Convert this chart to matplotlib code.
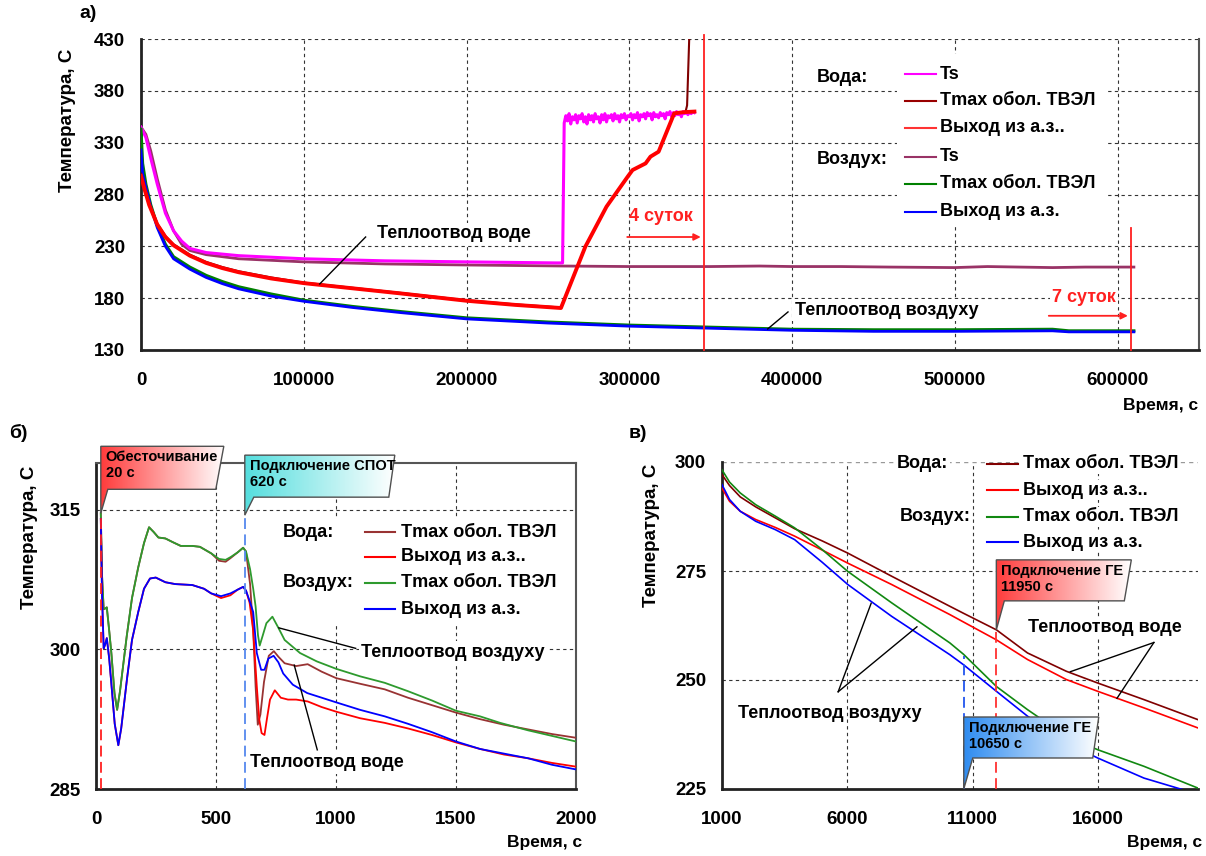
import numpy as np
import matplotlib
matplotlib.use("Agg")
import matplotlib.pyplot as plt
from matplotlib.patches import Polygon, Rectangle
from matplotlib.colors import LinearSegmentedColormap

plt.rcParams['font.family'] = ['Liberation Sans', 'DejaVu Sans']
plt.rcParams['font.weight'] = 'bold'

# ======================= DATA: panel a) =======================
a_ts_water_t1 = [0, 3e3, 6e3, 10e3, 15e3, 20e3, 25e3, 30e3, 40e3, 60e3, 100e3, 150e3, 200e3, 255e3, 259e3]
a_ts_water_v1 = [345, 335, 315, 290, 262, 245, 235, 228, 224, 221, 218, 216, 215, 214, 214]
a_ts_water_t2 = list(range(260000, 341000, 1000))
a_ts_water_v2 = [349, 356, 351, 358, 348, 355, 352, 357, 349, 356, 353, 358, 350, 355, 348, 357, 352, 356, 350, 358,
                 353, 355, 349, 357, 352, 358, 350, 356, 354, 357, 351, 358, 353, 356, 350, 357, 354, 358, 352, 356,
                 355, 358, 352, 357, 354, 359, 351, 357, 355, 358, 353, 359, 356, 358, 352, 359, 355, 357, 354, 359,
                 356, 358, 353, 359, 357, 360, 355, 359, 356, 360, 357, 359, 355, 360, 358, 360, 357, 360, 358, 360,
                 359]

a_tmax_water_t = [0, 2e3, 5e3, 10e3, 15e3, 20e3, 30e3, 40e3, 50e3, 60e3, 80e3, 100e3, 130e3, 160e3,
                  200e3, 230e3, 258e3, 273e3, 286e3, 299e3, 302e3, 310e3, 313e3, 318e3, 327.6e3,
                  334.5e3, 335.5e3, 337e3]
a_tmax_water_v = [300, 288, 272, 252, 240, 232, 222, 215, 210, 206, 200, 195, 190, 185,
                  178, 174, 171, 229.7, 268.3, 297.2, 303.6, 310, 316.5, 321.3, 358.3,
                  359.5, 366, 440]

a_out_water_t = [0, 2e3, 5e3, 10e3, 15e3, 20e3, 30e3, 40e3, 50e3, 60e3, 80e3, 100e3, 130e3, 160e3,
                 200e3, 230e3, 258e3, 273e3, 286e3, 299e3, 302e3, 310e3, 313e3, 318e3, 327.6e3,
                 334e3, 340e3]
a_out_water_v = [298, 286, 270, 251, 239, 231, 221, 214, 209, 205, 199, 194.5, 189.5, 184.5,
                 177.5, 173.5, 170.5, 229.7, 268.3, 297.2, 303.6, 310, 316.5, 321.3, 358.3,
                 359.5, 360]

a_ts_air_t = [0, 3e3, 6e3, 10e3, 15e3, 20e3, 25e3, 30e3, 40e3, 60e3, 100e3, 150e3, 200e3, 260e3,
              300e3, 350e3, 380e3, 400e3, 430e3, 460e3, 500e3, 520e3, 540e3, 560e3, 580e3, 610e3]
a_ts_air_v = [345, 338, 322, 295, 265, 245, 232, 226, 222, 218, 215, 213, 212, 211,
              210.5, 210.5, 211, 210.5, 210.5, 210, 209.5, 210.5, 210, 209.5, 210, 210]

a_air_t = [0, 1e3, 3e3, 6e3, 10e3, 15e3, 20e3, 30e3, 40e3, 50e3, 60e3, 80e3, 100e3, 130e3, 160e3,
           200e3, 250e3, 300e3, 350e3, 400e3, 450e3, 500e3, 560e3, 570e3, 610e3]
a_tmax_air_v = [343, 310, 290, 270, 250, 232, 220, 210, 202, 196, 191, 184, 178, 172, 167,
                161, 157, 154, 152, 150, 149.5, 149.5, 150, 148.5, 148.5]
a_out_air_v = [323, 300, 287, 268, 248, 230, 218, 208, 200, 194, 189, 182, 177, 171, 166,
               160, 156, 153, 151, 149, 148, 148, 148.5, 147.5, 147.5]

a_day_lines = [345600, 608000]          # 4 and 7 days
a_xticks = [0, 100000, 200000, 300000, 400000, 500000, 600000]
a_yticks = [130, 180, 230, 280, 330, 380, 430]

# ======================= DATA: panel б) =======================
b_tmax_air_t = [20, 25, 32, 40, 45, 55, 64, 77, 88, 100, 128, 150, 176, 200, 221, 240, 260, 289,
                320, 353, 400, 433, 480, 513, 540, 561, 590, 613, 625, 642, 655, 665, 675, 682,
                695, 710, 735, 760, 786, 850, 920, 1001, 1100, 1203, 1300, 1400, 1500, 1600,
                1684, 1800, 1900, 2000]
b_tmax_air_v = [314.6, 308, 304.3, 304.4, 304.5, 302, 299.6, 295.3, 293.5, 295.5, 301.4, 305.5,
                308.8, 311.4, 313.1, 312.6, 312.0, 311.9, 311.5, 311.1, 311.1, 311.0, 310.3, 309.7,
                309.6, 309.9, 310.4, 310.9, 310.5, 308.6, 306.5, 304.6, 301.5, 300.4, 301.5, 302.8,
                303.5, 302.3, 301.0, 299.6, 298.7, 297.9, 297.1, 296.4, 295.5, 294.5, 293.4, 292.8,
                292.1, 291.3, 290.7, 290.1]
b_tmax_water_t = [20, 25, 32, 40, 45, 55, 64, 77, 88, 100, 128, 150, 176, 200, 221, 240, 260, 289,
                  320, 353, 400, 433, 480, 513, 540, 561, 590, 613, 625, 642, 655, 665, 674, 685,
                  700, 720, 741, 760, 786, 834, 882, 940, 1001, 1100, 1203, 1300, 1400, 1500,
                  1600, 1700, 1800, 1900, 2000]
b_tmax_water_v = [314.6, 308, 304.3, 304.4, 304.5, 302, 299.6, 295.3, 293.5, 295.5, 301.4, 305.5,
                  308.8, 311.4, 313.1, 312.6, 312.0, 311.9, 311.5, 311.1, 311.1, 311.0, 310.3, 309.5,
                  309.4, 309.8, 310.4, 310.9, 310.5, 307, 302, 296, 291.9, 293, 296.5, 299.3,
                  299.8, 299.2, 298.5, 298.2, 298.4, 297.6, 296.9, 296.3, 295.7, 294.8, 294.0,
                  293.2, 292.5, 291.9, 291.4, 290.9, 290.5]
b_out_air_t = [20, 25, 32, 38, 45, 55, 65, 78, 93, 105, 130, 150, 176, 200, 225, 249, 289, 330,
               401, 450, 480, 521, 560, 590, 613, 625, 640, 655, 670, 688, 702, 718, 740, 760,
               780, 820, 880, 1001, 1100, 1203, 1300, 1400, 1500, 1600, 1700, 1800, 1900, 2000]
b_out_air_v = [314.0, 306, 300.1, 300.5, 301.2, 299, 296, 292, 289.7, 291.5, 297, 301, 304,
               306.5, 307.6, 307.7, 307.2, 307.0, 306.9, 306.5, 306.0, 305.7, 306.0, 306.4, 306.7,
               306.3, 305.2, 304.0, 299.6, 297.8, 297.8, 299.0, 299.3, 298.6, 297.4, 296.2, 295.3,
               294.3, 293.5, 292.8, 292.0, 291.1, 290.1, 289.3, 288.8, 288.3, 287.6, 287.1]
b_out_water_t = [20, 25, 32, 38, 45, 55, 65, 78, 93, 105, 130, 150, 176, 200, 225, 249, 289, 330,
                 401, 450, 480, 521, 560, 590, 613, 625, 640, 655, 670, 680, 690, 702, 712, 725,
                 745, 770, 800, 834, 882, 940, 1001, 1100, 1203, 1300, 1400, 1500, 1600, 1700,
                 1800, 1900, 2000]
b_out_water_v = [314.0, 306, 300.1, 300.5, 301.2, 299, 296, 292, 289.7, 291.5, 297, 301, 304,
                 306.5, 307.6, 307.7, 307.2, 307.0, 306.9, 306.5, 306.0, 305.5, 305.8, 306.4,
                 306.7, 306.3, 305, 302, 296, 292.5, 291.0, 290.8, 292.5, 294.6, 295.6, 294.8,
                 294.6, 294.6, 294.4, 293.8, 293.3, 292.6, 292.1, 291.5, 290.8, 290.0, 289.3,
                 288.7, 288.3, 287.8, 287.4]
b_events = [20, 620]
b_event_tops = [314.6, 314.4]
b_xticks = [0, 500, 1000, 1500, 2000]
b_yticks = [285, 300, 315]

# ======================= DATA: panel в) =======================
c_t = [1000, 1300, 1728, 2348, 3123, 3898, 5000, 6021, 7772, 10096, 10640, 11955, 13195, 14745, 16000, 17844, 20000]
c_tmax_water_v = [297.1, 294.6, 292.0, 289.7, 287.2, 284.7, 281.9, 279.1, 273.8, 266.9, 265.3, 261.5, 256.2, 252.0, 249.3, 245.5, 240.9]
c_out_water_v = [294.0, 291.0, 288.7, 286.8, 285.0, 283.0, 279.8, 276.8, 271.9, 265.0, 263.3, 259.2, 254.7, 250.1, 247.4, 243.6, 239.0]
c_tmax_air_v = [298.2, 295.4, 292.9, 290.2, 287.6, 284.9, 279.9, 274.9, 267.7, 258.5, 255.9, 248.5, 243.2, 237.1, 234.0, 230.2, 225.2]
c_out_air_v = [294.8, 291.4, 288.7, 286.4, 284.5, 282.2, 277.0, 271.9, 264.6, 255.8, 253.5, 247.4, 241.7, 235.6, 232.1, 227.5, 223.8]
c_events = [10650, 11950]
c_event_tops = [255.4, 261.5]
c_xticks = [1000, 6000, 11000, 16000]
c_yticks = [225, 250, 275, 300]

# ======================= FIGURE =======================
W, H = 1206, 856
fig = plt.figure(figsize=(W / 100, H / 100), dpi=100)


def px_axes(l, t, r, b):
    return fig.add_axes([l / W, 1 - b / H, (r - l) / W, (b - t) / H])


GRID = dict(color='#333333', linestyle=(0, (3, 3)), linewidth=0.8)


def style_axes(ax, xpad=16, ypad=11.5, fs=13):
    ax.set_axisbelow(True)
    ax.grid(True, **GRID)
    ax.tick_params(length=0, labelsize=fs, pad=ypad, axis='y')
    ax.tick_params(length=0, labelsize=fs, pad=xpad, axis='x')
    for lbl in ax.get_xticklabels() + ax.get_yticklabels():
        lbl.set_fontweight('bold')
    for s in ('left', 'bottom'):
        ax.spines[s].set_color('#222222')
        ax.spines[s].set_linewidth(2.0)
    for s in ('top', 'right'):
        ax.spines[s].set_color('#555555')
        ax.spines[s].set_linewidth(1.5)


# ----------------------- panel a -----------------------
axa = px_axes(141, 39, 1199, 350)
axa.set_xlim(0, 650000)
axa.set_ylim(130, 430)
axa.set_xticks(a_xticks)
axa.set_yticks(a_yticks)
axa.set_xticklabels([str(v) for v in a_xticks])
style_axes(axa, xpad=16, ypad=11.5, fs=13.5)
axa.spines['top'].set_visible(False)

c_mag, c_dred, c_red, c_mauve, c_green, c_blue = '#ff00ff', '#800000', '#ff0000', '#993366', '#008000', '#0000ff'
axa.plot(a_ts_air_t, a_ts_air_v, color=c_mauve, lw=2.0, zorder=3)
axa.plot(a_ts_water_t1 + a_ts_water_t2, a_ts_water_v1 + a_ts_water_v2, color=c_mag, lw=2.2, zorder=3)
axa.plot(a_air_t, a_tmax_air_v, color=c_green, lw=2.2, zorder=3)
axa.plot(a_air_t, a_out_air_v, color=c_blue, lw=2.0, zorder=3)
axa.plot(a_tmax_water_t, a_tmax_water_v, color=c_dred, lw=1.5, zorder=3)
axa.plot(a_out_water_t, a_out_water_v, color=c_red, lw=2.8, zorder=4)

axa.plot([a_day_lines[0]] * 2, [130, 434], color='#ff2020', lw=1.3, clip_on=False, zorder=5)
axa.plot([a_day_lines[1]] * 2, [130, 248], color='#ff2020', lw=1.3, clip_on=False, zorder=5)
axa.annotate('', xy=(a_day_lines[0], 239), xytext=(297000, 239),
             arrowprops=dict(arrowstyle='-|>', color='#ff2020', lw=1.3, mutation_scale=10), zorder=5)
axa.text(300000, 259, '4 суток', color='#ff2020', fontsize=13, fontweight='bold', va='center', ha='left')
axa.annotate('', xy=(a_day_lines[1], 163), xytext=(556000, 163),
             arrowprops=dict(arrowstyle='-|>', color='#ff2020', lw=1.3, mutation_scale=10), zorder=5)
axa.text(559500, 181, '7 суток', color='#ff2020', fontsize=13, fontweight='bold', va='center', ha='left',
         bbox=dict(fc='white', ec='none', pad=1.5))

axa.plot([138000, 109800], [239, 193.7], color='black', lw=1.0, zorder=6)
axa.text(145000, 242, 'Теплоотвод воде', fontsize=13, fontweight='bold', va='center', ha='left',
         bbox=dict(fc='white', ec='none', pad=1.5), zorder=6)
axa.plot([397500, 385000], [166.7, 150.3], color='black', lw=1.0, zorder=6)
axa.text(401500, 168.5, 'Теплоотвод воздуху', fontsize=13, fontweight='bold', va='center', ha='left',
         bbox=dict(fc='white', ec='none', pad=1.5), zorder=6)

# legend (panel a)
axa.add_patch(Rectangle((0.715, 0.40), 0.196, 0.552, transform=axa.transAxes, fc='white', ec='none', zorder=1.5))
a_leg_rows = [0.887, 0.801, 0.714, 0.621, 0.534, 0.444]
a_leg_cols = [c_mag, '#990000', '#ff3333', c_mauve, c_green, c_blue]
a_leg_text = ['Ts', 'Tmax обол. ТВЭЛ', 'Выход из а.з..', 'Ts', 'Tmax обол. ТВЭЛ', 'Выход из а.з.']
for yy, cc, tt in zip(a_leg_rows, a_leg_cols, a_leg_text):
    axa.plot([0.722, 0.751], [yy, yy], color=cc, lw=1.5, transform=axa.transAxes, zorder=6)
    axa.text(0.755, yy, tt, transform=axa.transAxes, fontsize=13, fontweight='bold', va='center', ha='left')
axa.text(0.639, a_leg_rows[0] - 0.01, 'Вода:', transform=axa.transAxes, fontsize=13, fontweight='bold',
         va='center', ha='left', bbox=dict(fc='white', ec='none', pad=1))
axa.text(0.639, a_leg_rows[3] - 0.01, 'Воздух:', transform=axa.transAxes, fontsize=13, fontweight='bold',
         va='center', ha='left', bbox=dict(fc='white', ec='none', pad=1))

# ----------------------- panel б -----------------------
axb = px_axes(96, 463, 576, 789)
axb.set_xlim(0, 2000)
axb.set_ylim(285, 320)
axb.set_xticks(b_xticks)
axb.set_yticks(b_yticks)
style_axes(axb, xpad=16, ypad=11, fs=13.5)

cb_dred, cb_red, cb_green, cb_blue = '#993333', '#ff0000', '#2e9a2e', '#0000ff'
axb.plot(b_tmax_water_t, b_tmax_water_v, color=cb_dred, lw=1.3, zorder=3)
axb.plot(b_tmax_air_t, b_tmax_air_v, color=cb_green, lw=1.3, zorder=3)
axb.plot(b_out_water_t, b_out_water_v, color=cb_red, lw=1.3, zorder=3)
axb.plot(b_out_air_t, b_out_air_v, color=cb_blue, lw=1.3, zorder=3)
axb.plot([b_events[0]] * 2, [285, b_event_tops[0]], color='#ff2020', lw=1.3, ls=(0, (6, 3)), zorder=4)
axb.plot([b_events[1]] * 2, [285, b_event_tops[1]], color='#5588ee', lw=1.3, ls=(0, (6, 3)), zorder=4)

axb.plot([762, 1082], [302.3, 300.1], color='black', lw=1.0, zorder=6)
axb.text(1104, 299.7, 'Теплоотвод воздуху', fontsize=13, fontweight='bold', va='center', ha='left',
         bbox=dict(fc='white', ec='none', pad=1.5), zorder=6)
axb.plot([922, 826], [289.2, 298.3], color='black', lw=1.0, zorder=6)
axb.text(642, 287.8, 'Теплоотвод воде', fontsize=13, fontweight='bold', va='center', ha='left',
         bbox=dict(fc='white', ec='none', pad=1.5), zorder=6)

b_leg_rows = [0.788, 0.712, 0.632, 0.552]
b_leg_cols = [cb_dred, cb_red, cb_green, cb_blue]
b_leg_text = ['Tmax обол. ТВЭЛ', 'Выход из а.з..', 'Tmax обол. ТВЭЛ', 'Выход из а.з.']
axb.add_patch(Rectangle((0.38, 0.50), 0.58, 0.33, transform=axb.transAxes, fc='white', ec='none', zorder=1.5))
for yy, cc, tt in zip(b_leg_rows, b_leg_cols, b_leg_text):
    axb.plot([0.560, 0.623], [yy, yy], color=cc, lw=1.5, transform=axb.transAxes, zorder=6)
    axb.text(0.635, yy, tt, transform=axb.transAxes, fontsize=13, fontweight='bold', va='center', ha='left')
axb.text(0.390, b_leg_rows[0], 'Вода:', transform=axb.transAxes, fontsize=13, fontweight='bold', va='center', ha='left')
axb.text(0.390, b_leg_rows[2], 'Воздух:', transform=axb.transAxes, fontsize=13, fontweight='bold', va='center', ha='left')

# ----------------------- panel в -----------------------
axc = px_axes(722, 462, 1198, 789)
axc.set_xlim(1000, 20000)
axc.set_ylim(225, 300)
axc.set_xticks(c_xticks)
axc.set_yticks(c_yticks)
style_axes(axc, xpad=16, ypad=11.5, fs=13.5)
axc.spines['top'].set_visible(False)
axc.spines['right'].set_visible(False)
axc.grid(False)
for xv in c_xticks[1:]:
    axc.axvline(xv, **GRID, zorder=0.5)
for yv in c_yticks[1:-1]:
    axc.axhline(yv, **GRID, zorder=0.5)
axc.axhline(300, color='#999999', linestyle=(0, (3, 3)), linewidth=1.0, zorder=0.5)

cc_dred, cc_red, cc_green, cc_blue = '#800000', '#ff0000', '#118811', '#0000ff'
axc.plot(c_t, c_tmax_water_v, color=cc_dred, lw=1.2, zorder=3)
axc.plot(c_t, c_out_water_v, color=cc_red, lw=1.2, zorder=3)
axc.plot(c_t, c_tmax_air_v, color=cc_green, lw=1.2, zorder=3)
axc.plot(c_t, c_out_air_v, color=cc_blue, lw=1.2, zorder=3)
axc.plot([c_events[0]] * 2, [225, c_event_tops[0]], color='#2255ee', lw=1.3, ls=(0, (6, 3)), zorder=4)
axc.plot([c_events[1]] * 2, [225, c_event_tops[1]], color='#ff3030', lw=1.3, ls=(0, (6, 3)), zorder=4)

axc.plot([5637, 6954], [247.3, 267.6], color='black', lw=1.0, zorder=6)
axc.plot([5637, 8781], [247.3, 262.2], color='black', lw=1.0, zorder=6)
axc.text(1650, 242.4, 'Теплоотвод воздуху', fontsize=13, fontweight='bold', va='center', ha='left', zorder=6)
axc.plot([18239, 14903], [258.6, 251.9], color='black', lw=1.0, zorder=6)
axc.plot([18239, 16766], [258.6, 245.8], color='black', lw=1.0, zorder=6)
axc.text(13199, 262.1, 'Теплоотвод воде', fontsize=13, fontweight='bold', va='center', ha='left',
         bbox=dict(fc='white', ec='none', pad=1.0), zorder=6)

c_leg_rows = [0.994, 0.914, 0.832, 0.755]
c_leg_cols = [cc_dred, cc_red, cc_green, cc_blue]
c_leg_text = ['Tmax обол. ТВЭЛ', 'Выход из а.з..', 'Tmax обол. ТВЭЛ', 'Выход из а.з.']
for yy, cc, tt in zip(c_leg_rows, c_leg_cols, c_leg_text):
    axc.plot([0.557, 0.622], [yy, yy], color=cc, lw=1.5, transform=axc.transAxes, zorder=6, clip_on=False)
    axc.text(0.632, yy, tt, transform=axc.transAxes, fontsize=13, fontweight='bold', va='center', ha='left',
             bbox=dict(fc='white', ec='none', pad=1.0))
axc.text(0.368, c_leg_rows[0], 'Вода:', transform=axc.transAxes, fontsize=13, fontweight='bold', va='center',
         ha='left', bbox=dict(fc='white', ec='none', pad=1.0))
axc.text(0.374, c_leg_rows[2], 'Воздух:', transform=axc.transAxes, fontsize=13, fontweight='bold', va='center',
         ha='left', bbox=dict(fc='white', ec='none', pad=1.0))

# ----------------------- labels -----------------------
fig.text(88 / W, 1 - 14 / H, 'а)', fontsize=14, fontweight='bold', ha='center', va='center')
fig.text(18 / W, 1 - 433 / H, 'б)', fontsize=14, fontweight='bold', ha='center', va='center')
fig.text(638 / W, 1 - 433 / H, 'в)', fontsize=14, fontweight='bold', ha='center', va='center')
for (x, y) in [(67, 120), (29, 537), (652, 535)]:
    fig.text(x / W, 1 - y / H, 'Температура, С', fontsize=13.5, fontweight='bold', rotation=90,
             ha='center', va='center')
for (x, y) in [(1198, 405), (582, 843), (1202, 843)]:
    fig.text(x / W, 1 - y / H, 'Время, с', fontsize=12.5, fontweight='bold', ha='right', va='center')

# ----------------------- callouts -----------------------
ov = fig.add_axes([0, 0, 1, 1], zorder=10)
ov.patch.set_alpha(0)
ov.axis('off')


def callout(ax, xev, ytip, offs, text, color):
    tx, ty = ax.transData.transform((xev, ytip))
    X, Y = tx, H - ty
    pts = [(X + dx, Y + dy) for dx, dy in offs]
    xs = [p[0] for p in pts]
    ys = [p[1] for p in pts]
    poly = Polygon(pts, closed=True, fc='none', ec='#505050', lw=1.0, zorder=12)
    ov.add_patch(poly)
    cmap = LinearSegmentedColormap.from_list('g', [color, '#ffffff'])
    grad = np.linspace(0, 1, 256).reshape(1, -1)
    im = ov.imshow(grad, cmap=cmap, extent=[min(xs), max(xs), max(ys), min(ys)], aspect='auto',
                   interpolation='bilinear', zorder=11)
    im.set_clip_path(poly)
    ov.text(X + offs[0][0] + 5, Y + offs[0][1] + 4, text, ha='left', va='top', fontsize=10.5,
            fontweight='bold', linespacing=1.15, zorder=13)


callout(axb, b_events[0], b_event_tops[0], [(0, -67), (123, -67), (115, -24), (7, -24), (0, 0)],
        'Обесточивание\n20 с', '#ff3c3c')
callout(axb, b_events[1], b_event_tops[1], [(0, -60), (150, -60), (144, -18), (9, -18), (0, 0)],
        'Подключение СПОТ\n620 с', '#55dede')
callout(axc, c_events[1], c_event_tops[1], [(0, -70), (135, -70), (128, -29), (8, -29), (0, 0)],
        'Подключение ГЕ\n11950 с', '#ff3c3c')
callout(axc, c_events[0], 225, [(0, -72), (135, -72), (129, -31), (9, -31), (0, 0)],
        'Подключение ГЕ\n10650 с', '#2f8cf0')
ov.set_xlim(0, W)
ov.set_ylim(H, 0)

fig.savefig('out.png', dpi=100)
